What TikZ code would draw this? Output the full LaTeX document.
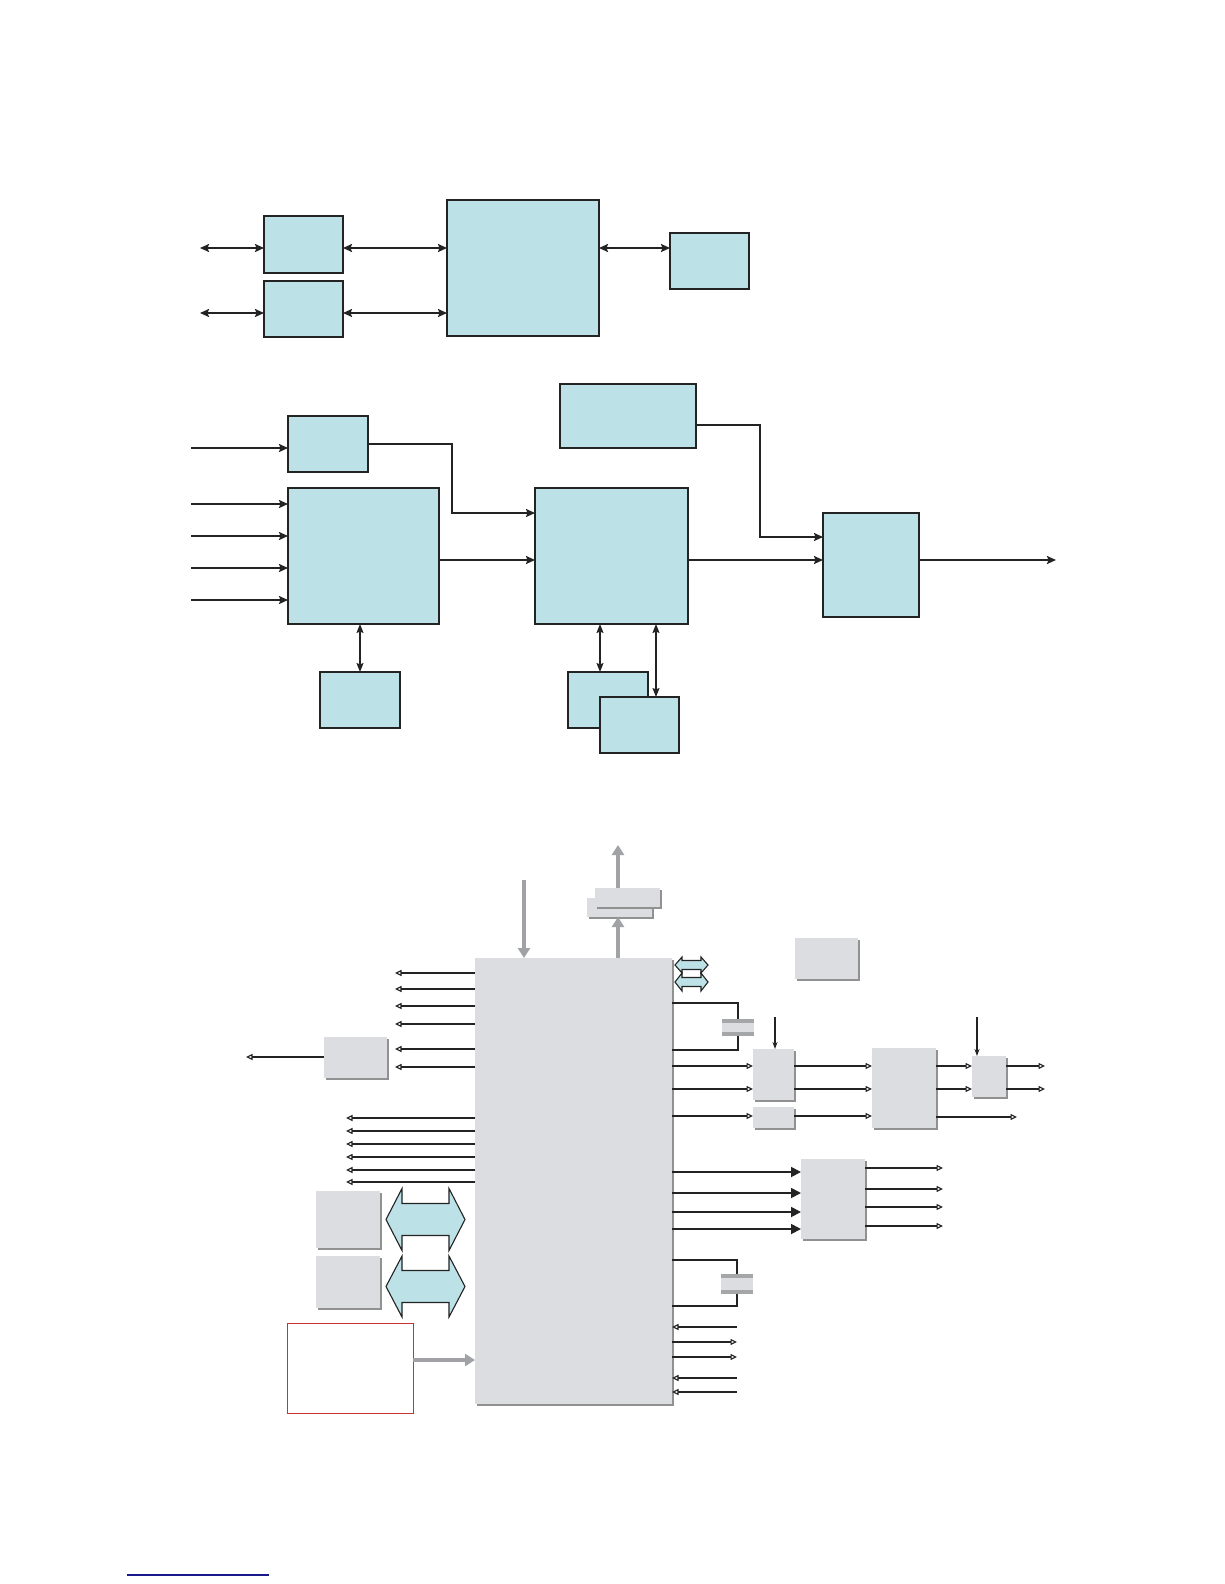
\documentclass[tikz,border=0pt]{standalone}
\usetikzlibrary{arrows.meta,shadows}
\definecolor{lblue}{RGB}{188,225,231}
\definecolor{dk}{RGB}{35,35,35}
\definecolor{lgray}{RGB}{220,221,224}
\definecolor{shgray}{RGB}{145,145,145}
\definecolor{agray}{RGB}{160,162,165}
\definecolor{plategray}{RGB}{165,166,168}
\definecolor{redb}{RGB}{200,50,50}
\definecolor{linkblue}{RGB}{25,25,140}
\begin{document}
\begin{tikzpicture}[x=1pt,y=-1pt,
  bbox/.style={draw=dk,fill=lblue,line width=2pt,inner sep=0pt,outer sep=0pt,anchor=north west},
  gbox/.style={fill=lgray,inner sep=0pt,outer sep=0pt,anchor=north west,
    drop shadow={shadow xshift=1.5pt,shadow yshift=-1.5pt,opacity=1,fill=shgray}},
  sz/.style 2 args={minimum width=#1pt,minimum height=#2pt},
  conn/.style={draw=dk,line width=1.8pt,-{Stealth[length=9pt,width=8pt,inset=1.5pt]}},
  dconn/.style={draw=dk,line width=1.8pt,{Stealth[length=9pt,width=8pt,inset=1.5pt]}-{Stealth[length=9pt,width=8pt,inset=1.5pt]}},
  vconn/.style={draw=dk,line width=1.2pt,{Stealth[length=9pt,width=7pt,inset=1.5pt]}-{Stealth[length=9pt,width=7pt,inset=1.5pt]}},
  sconn/.style={draw=dk,line width=1.4pt,-{Triangle[open,length=6.5pt,width=6pt,line width=1.1pt,fill=white]}},
  bigconn/.style={draw=dk,line width=1.8pt,-{Triangle[length=10pt,width=10pt]}},
  garrow/.style={draw=agray,line width=4pt,-{Triangle[length=10pt,width=12pt,fill=agray]}},
  wire/.style={draw=dk,line width=1.1pt},
  blockarr/.style={draw=dk,fill=lblue,line width=1.1pt,line join=miter}
]
\useasboundingbox (0,0) rectangle (1224,1584);
\fill[white] (0,0) rectangle (1224,1584);

% ---------------- top section ----------------
\node[bbox,sz={79}{57}] (A1) at (264,216) {};
\node[bbox,sz={79}{56}] (A2) at (264,281) {};
\node[bbox,sz={152}{136}] (B) at (447,200) {};
\node[bbox,sz={79}{56}] (C) at (670,233) {};
\coordinate (a1in) at (200,248);
\coordinate (a2in) at (200,313);
\draw[dconn] (a1in) -- (A1.west |- a1in);
\draw[dconn] (a2in) -- (A2.west |- a2in);
\draw[dconn] (A1.east |- a1in) -- (B.west |- a1in);
\draw[dconn] (A2.east |- a2in) -- (B.west |- a2in);
\draw[dconn] (B.east |- a1in) -- (C.west |- a1in);

% ---------------- middle section ----------------
\node[bbox,sz={80}{56}] (D) at (288,416) {};
\node[bbox,sz={151}{136}] (E) at (288,488) {};
\node[bbox,sz={136}{64}] (F) at (560,384) {};
\node[bbox,sz={153}{136}] (G) at (535,488) {};
\node[bbox,sz={96}{104}] (H) at (823,513) {};
\node[bbox,sz={80}{56}] (I) at (320,672) {};
\node[bbox,sz={80}{56}] (J1) at (568,672) {};
\node[bbox,sz={79}{56}] (J2) at (600,697) {};

\coordinate (din) at (191,448);
\draw[conn] (din) -- (D.west |- din);
\foreach \y [count=\i] in {504,536,568,600}{
  \coordinate (ein\i) at (191,\y);
  \draw[conn] (ein\i) -- (E.west |- ein\i);
}
\draw[conn] (D.east |- 0,444) -| (452,513) -- (G.west |- 0,513);
\draw[conn] (E.east |- 0,560) -- (G.west |- 0,560);
\draw[conn] (F.east |- 0,425) -| (760,537) -- (H.west |- 0,537);
\draw[conn] (G.east |- 0,560) -- (H.west |- 0,560);
\coordinate (hout) at (1056,560);
\draw[conn] (H.east |- hout) -- (hout);
\draw[vconn] (I.north -| 360,0) -- (E.south -| 360,0);
\draw[vconn] (J1.north -| 600,0) -- (G.south -| 600,0);
\draw[vconn] (J2.north -| 656,0) -- (G.south -| 656,0);

% ---------------- bottom section ----------------
\node[gbox,sz={197}{446},drop shadow={shadow xshift=2pt,shadow yshift=-2pt,opacity=1,fill=shgray}] (M) at (475,958) {};
\node[gbox,sz={65}{19}] (SB) at (587,898) {};
\node[gbox,sz={65}{19}] (SF) at (595,888) {};
\node[gbox,sz={63}{41}] (K) at (795,938) {};
\node[gbox,sz={63}{41}] (R) at (324,1037) {};
\node[gbox,sz={41}{51}] (L1) at (753,1049) {};
\node[gbox,sz={41}{21}] (L2) at (753,1107) {};
\node[gbox,sz={64}{80}] (N) at (872,1048) {};
\node[gbox,sz={34}{41}] (P) at (972,1056) {};
\node[gbox,sz={64}{80}] (Q) at (801,1159) {};
\node[gbox,sz={64}{57}] (S1) at (316,1191) {};
\node[gbox,sz={64}{52}] (S2) at (316,1256) {};
\node[draw=redb,line width=1pt,inner sep=0pt,outer sep=0pt,anchor=north west,sz={126}{90}] (T) at (287,1323) {};

% gray thick arrows
\coordinate (gin) at (524,880);
\draw[garrow] (gin) -- (M.north -| gin);
\draw[garrow] (M.north -| 618,0) -- (SB.south -| 618,0);
\coordinate (gout) at (618,845);
\draw[garrow] (SF.north -| gout) -- (gout);
\draw[garrow] (T.east |- 0,1360) -- (M.west |- 0,1360);

% small block double arrows
\foreach \yc/\hh in {965/8,982/9}{
  \draw[blockarr] (675,\yc) -- (682,\yc-\hh) -- (682,\yc-4.5) -- (701,\yc-4.5) -- (701,\yc-\hh) -- (708,\yc)
    -- (701,\yc+\hh) -- (701,\yc+4.5) -- (682,\yc+4.5) -- (682,\yc+\hh) -- cycle;
}
% big block double arrows
\foreach \yc/\hh in {1219.5/31,1286.5/30.5}{
  \draw[blockarr] (386,\yc) -- (402,\yc-\hh) -- (402,\yc-16) -- (449,\yc-16) -- (449,\yc-\hh) -- (465,\yc)
    -- (449,\yc+\hh) -- (449,\yc+16) -- (402,\yc+16) -- (402,\yc+\hh) -- cycle;
}

% crystal 1
\fill[plategray] (722,1019) rectangle (754,1022.5);
\fill[lgray] (722,1022.5) rectangle (754,1032);
\fill[plategray] (722,1032) rectangle (754,1035.5);
\draw[wire] (M.east |- 0,1003) -| (738,1019);
\draw[wire,line width=1.8pt] (738,1035.5) |- (M.east |- 0,1050);
% crystal 2
\fill[plategray] (721,1274) rectangle (753,1277.5);
\fill[lgray] (721,1277.5) rectangle (753,1290);
\fill[plategray] (721,1290) rectangle (753,1293.5);
\draw[wire] (M.east |- 0,1260) -| (737,1274);
\draw[wire,line width=1.8pt] (737,1293.5) |- (M.east |- 0,1306);

% right of M: to L1, L2
\draw[sconn] (M.east |- 0,1066) -- (L1.west |- 0,1066);
\draw[sconn] (M.east |- 0,1089) -- (L1.west |- 0,1089);
\draw[sconn] (M.east |- 0,1116) -- (L2.west |- 0,1116);
\coordinate (l1in) at (775,1017);
\draw[wire,-{Stealth[length=7pt,width=5pt]}] (l1in) -- (L1.north -| l1in);
\draw[sconn] (L1.east |- 0,1066) -- (N.west |- 0,1066);
\draw[sconn] (L1.east |- 0,1089) -- (N.west |- 0,1089);
\draw[sconn] (L2.east |- 0,1116) -- (N.west |- 0,1116);
\draw[sconn] (N.east |- 0,1066) -- (P.west |- 0,1066);
\draw[sconn] (N.east |- 0,1089) -- (P.west |- 0,1089);
\coordinate (pin) at (977,1017);
\draw[wire,-{Stealth[length=7pt,width=5pt]}] (pin) -- (P.north -| pin);
\coordinate (po1) at (1045,1066);
\coordinate (po2) at (1045,1089);
\coordinate (no3) at (1017,1117);
\draw[sconn] (P.east |- po1) -- (po1);
\draw[sconn] (P.east |- po2) -- (po2);
\draw[sconn] (N.east |- no3) -- (no3);

% M to Q
\foreach \y in {1172,1193,1212,1229}{
  \draw[bigconn] (M.east |- 0,\y) -- (Q.west |- 0,\y);
}
\foreach \y [count=\i] in {1168,1189,1207,1226}{
  \coordinate (qo\i) at (943,\y);
  \draw[sconn] (Q.east |- qo\i) -- (qo\i);
}

% bottom right small arrows
\foreach \y [count=\i] in {1327,1378,1392}{
  \coordinate (bi\i) at (737,\y);
  \draw[sconn] (bi\i) -- (M.east |- bi\i);
}
\foreach \y [count=\i] in {1342,1357}{
  \coordinate (bo\i) at (737,\y);
  \draw[sconn] (M.east |- bo\i) -- (bo\i);
}

% left arrows group 1
\foreach \y [count=\i] in {973,989,1006,1024,1049,1067}{
  \coordinate (lo\i) at (395,\y);
  \draw[sconn] (M.west |- lo\i) -- (lo\i);
}
\coordinate (ro) at (246,1057);
\draw[sconn] (R.west |- ro) -- (ro);
% left arrows group 2
\foreach \y [count=\i] in {1118,1131,1144,1157,1170,1182}{
  \coordinate (lt\i) at (346,\y);
  \draw[sconn] (M.west |- lt\i) -- (lt\i);
}

% link underline
\coordinate (lk1) at (127,1575);
\coordinate (lk2) at (269,1575);
\draw[linkblue,line width=1.3pt] (lk1) -- (lk2);
\end{tikzpicture}
\end{document}
